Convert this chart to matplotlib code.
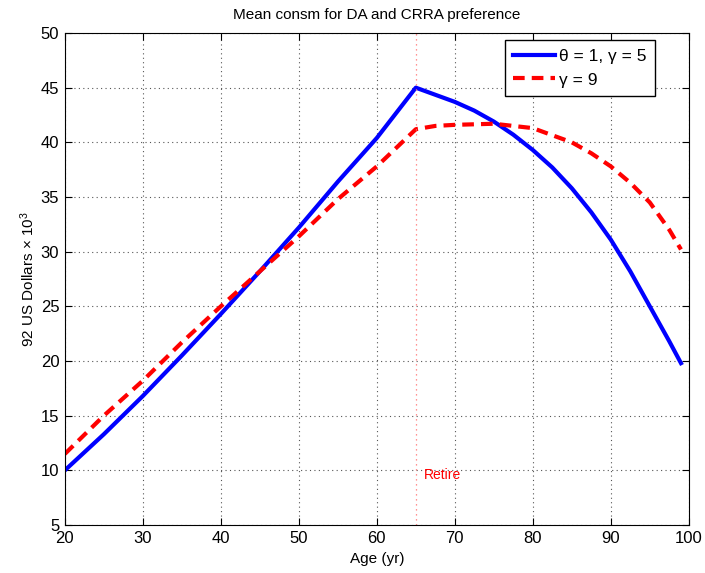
import matplotlib
matplotlib.use("Agg")
import matplotlib.pyplot as plt

plt.rcParams['font.family'] = ['Liberation Sans', 'DejaVu Sans']
plt.rcParams['mathtext.fontset'] = 'custom'
plt.rcParams['mathtext.rm'] = 'Liberation Sans'
plt.rcParams['mathtext.it'] = 'Liberation Sans:italic'

# mean consumption by age, thousands of 1992 dollars
age_da = [20, 25, 30, 35, 40, 45, 50, 55, 60, 65, 70, 72.5, 75, 77.5, 80,
          82.5, 85, 87.5, 90, 92.5, 95, 97.5, 99]
cons_da = [10.0, 13.3, 16.8, 20.5, 24.3, 28.2, 32.2, 36.4, 40.4, 45.0, 43.7,
           42.9, 41.9, 40.7, 39.3, 37.7, 35.8, 33.6, 31.1, 28.2, 25.0, 21.8,
           19.8]

age_crra = [20, 25, 30, 35, 40, 45, 50, 55, 60, 65, 67.5, 70, 75, 80, 85,
            87.5, 90, 92.5, 95, 97.5, 99]
cons_crra = [11.5, 15.0, 18.2, 21.7, 25.0, 28.2, 31.4, 34.8, 37.8, 41.2, 41.5,
             41.6, 41.7, 41.3, 40.0, 39.0, 37.8, 36.3, 34.5, 32.0, 30.2]

retire_age = 65

fig = plt.figure(figsize=(7.05, 5.73), dpi=100)
ax = fig.add_axes([0.092, 0.0838, 0.885, 0.8586])

ax.plot(age_da, cons_da, color='blue', lw=3, label='θ = 1, γ = 5')
ax.plot(age_crra, cons_crra, color='red', lw=3, ls=(0, (2.8, 1.7)),
        label='γ = 9')
ax.axvline(retire_age, color='#ff7070', lw=0.9, ls=(0, (1, 3)))
ax.text(retire_age + 1, 9.2, 'Retire', color='red', fontsize=10)

ax.set_xlim(20, 100)
ax.set_ylim(5, 50)
ax.set_xticks(range(20, 101, 10))
ax.set_yticks(range(5, 51, 5))
ax.grid(True, ls=(0, (1, 3)), color='#555555', lw=0.8)
ax.tick_params(direction='in', top=True, right=True, labelsize=12,
               length=5, pad=4)

ax.set_title('Mean consm for DA and CRRA preference', fontsize=11, pad=10)
ax.set_xlabel('Age (yr)', fontsize=11, labelpad=5)
ax.set_ylabel(r'92 US Dollars $\times$ 10$^3$', fontsize=11, labelpad=3)

leg = ax.legend(loc='upper right', bbox_to_anchor=(0.9455, 0.986),
                borderaxespad=0, fontsize=12.5, fancybox=False,
                framealpha=1, edgecolor='black', handlelength=2.4,
                handletextpad=0.2, borderpad=0.5)
leg.get_frame().set_linewidth(1.0)

fig.savefig('out.png', dpi=100)
